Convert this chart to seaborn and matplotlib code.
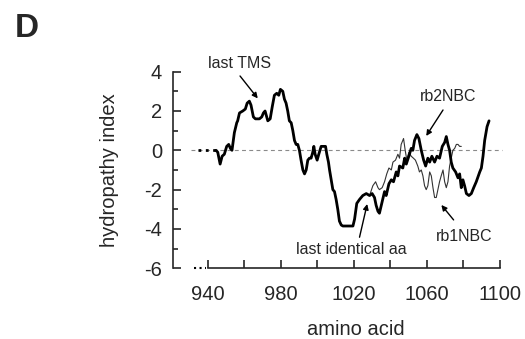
import matplotlib
matplotlib.use("Agg")
import matplotlib.pyplot as plt
from matplotlib.ticker import MultipleLocator
import seaborn as sns

#### DATA

# rb2NBC (thick) hydropathy profile
rb2_x = [944.6, 945.5, 946.8, 947.9, 949.1, 950.4, 951.5, 952.4, 953.3, 954.6,
         955.9, 956.4, 957.4, 959.2, 960.6, 961.6, 962.8, 963.7, 965.0, 966.1,
         967.4, 968.3, 969.6, 970.5, 971.4, 972.9, 974.2, 975.3, 976.5, 977.8,
         978.9, 979.8, 981.1, 982.0, 982.9, 983.8, 984.7, 985.7, 986.6, 987.5,
         988.4, 989.3, 990.2, 991.1, 992.1, 993.0, 993.9, 994.8, 995.7, 996.6,
         997.5, 998.1, 998.8, 999.9, 1000.8, 1002.1, 1003.4, 1004.5, 1005.2, 1006.1,
         1006.7, 1007.6, 1008.5, 1009.4, 1010.3, 1011.2, 1012.1, 1013.1, 1014.0, 1016.0,
         1018.0, 1019.5, 1020.4, 1021.6, 1023.1, 1024.9, 1026.8, 1028.6, 1030.0, 1031.3,
         1032.2, 1033.2, 1034.0, 1035.5, 1036.8, 1037.7, 1039.2, 1040.5, 1041.7, 1043.2,
         1044.1, 1045.0, 1046.8, 1047.8, 1048.7, 1050.1, 1051.4, 1052.3, 1053.2, 1054.5,
         1055.6, 1056.9, 1058.2, 1059.3, 1060.5, 1061.5, 1062.7, 1064.2, 1065.5, 1066.9,
         1068.4, 1069.7, 1070.6, 1071.5, 1072.4, 1073.3, 1074.2, 1075.7, 1077.0, 1077.9,
         1078.8, 1079.7, 1080.6, 1081.6, 1083.0, 1084.3, 1085.6, 1087.0, 1088.9, 1089.8,
         1090.7, 1091.6, 1092.9, 1094.0]
rb2_y = [0.0, -0.1, -0.7, -0.3, -0.2, 0.2, 0.3, 0.1, 0.0, 0.9,
         1.4, 1.5, 1.9, 2.0, 2.1, 2.4, 2.5, 2.3, 1.7, 1.6,
         1.6, 1.6, 1.7, 1.9, 2.0, 1.5, 1.6, 2.2, 2.8, 2.9,
         2.8, 3.1, 3.0, 2.6, 2.4, 2.0, 1.5, 1.4, 1.0, 0.5,
         0.3, 0.3, 0.0, -0.5, -1.0, -1.2, -1.0, -0.5, -0.4, -0.4,
         -0.1, 0.2, -0.2, -0.5, -0.2, 0.2, 0.2, 0.2, -0.2, -0.6,
         -1.0, -1.5, -2.0, -2.1, -2.5, -3.0, -3.6, -3.8, -3.85, -3.85,
         -3.85, -3.85, -3.5, -2.7, -2.5, -2.3, -2.2, -2.3, -2.2, -2.4,
         -2.8, -3.1, -3.2, -2.6, -2.1, -2.3, -1.7, -1.5, -1.6, -1.1,
         -1.3, -0.8, -0.9, -0.4, -0.7, -0.3, 0.1, 0.0, 0.5, 0.8,
         0.6, 0.0, -0.5, -0.8, -0.4, -0.6, -0.3, -0.6, -0.3, -0.4,
         0.2, 0.4, 0.7, 0.3, 0.0, -0.6, -0.9, -1.1, -1.4, -1.2,
         -1.9, -1.5, -1.8, -2.2, -2.3, -2.2, -1.9, -1.6, -1.1, -0.9,
         -0.3, 0.5, 1.2, 1.5]

# rb1NBC (thin) after the last identical residue
rb1_x = [1028.6, 1030.4, 1031.9, 1033.2, 1034.0, 1035.5, 1036.8, 1038.0, 1039.2, 1040.5,
         1041.4, 1042.8, 1044.1, 1045.0, 1045.9, 1047.2, 1048.1, 1049.0, 1050.1, 1051.4,
         1052.6, 1053.7, 1055.0, 1055.9, 1056.9, 1057.8, 1058.7, 1059.6, 1060.5, 1061.5,
         1062.4, 1063.3, 1064.2, 1065.1, 1066.0, 1066.9, 1067.8, 1068.8, 1069.7, 1070.6,
         1071.5, 1072.4, 1073.3, 1074.2, 1075.2, 1076.1, 1077.0, 1077.9, 1078.8]
rb1_y = [-2.3, -1.8, -1.6, -1.9, -2.0, -1.9, -1.6, -1.2, -0.9, -1.0,
         -0.6, -0.5, -0.2, -0.4, 0.3, 0.6, 0.0, -0.5, -0.1, -0.3,
         -0.4, -0.5, -0.8, -1.1, -1.0, -1.3, -1.8, -2.0, -1.8, -1.1,
         -1.3, -1.9, -2.4, -2.4, -2.0, -1.6, -1.3, -1.0, -1.6, -1.9,
         -1.6, -0.8, -0.4, 0.0, 0.1, 0.3, 0.3, 0.2, 0.2]

# dotted lead-in before the plotted stretch
lead_x = [934.5, 944.6]
lead_y = [0.0, 0.0]

x_ticks = [940, 980, 1020, 1060, 1100]

#### PLOT

sns.set_style("ticks")
plt.rcParams['font.family'] = ['Liberation Sans', 'DejaVu Sans']
plt.rcParams['axes.unicode_minus'] = False

fig = plt.figure(figsize=(5.25, 3.39), dpi=100)
ax = fig.add_axes([0.3295, 0.2086, 0.6229, 0.58])

ax.hlines(0, 931, 1101, colors='#8a8a8a', linestyles=(0, (3.5, 3)), linewidth=0.8, clip_on=False)
sns.lineplot(x=lead_x, y=lead_y, ax=ax, color='black', linewidth=2.0, linestyle=':')
sns.lineplot(x=rb1_x, y=rb1_y, ax=ax, color='#333333', linewidth=0.8)
sns.lineplot(x=rb2_x, y=rb2_y, ax=ax, color='black', linewidth=2.0)

# axis break mark under the x axis
ax.plot([932.5, 939], [-6, -6], color='black', linestyle=':', linewidth=1.5, clip_on=False)

ax.set_xlim(921, 1100)
ax.set_ylim(-6, 4)
ax.xaxis.set_minor_locator(MultipleLocator(20))
ax.yaxis.set_major_locator(MultipleLocator(2))
ax.yaxis.set_minor_locator(MultipleLocator(1))
ax.set_xticks(x_ticks)

for s in ['top', 'right']:
    ax.spines[s].set_visible(False)
ax.spines['bottom'].set_bounds(940, 1100)
ax.spines['left'].set_bounds(-6, 4)
for s in ['left', 'bottom']:
    ax.spines[s].set_linewidth(1.2)

ax.tick_params(axis='both', which='both', direction='in', width=1.2, labelsize=14.5)
ax.tick_params(axis='y', which='major', length=5.5, pad=8)
ax.tick_params(axis='y', which='minor', length=3.5)
ax.tick_params(axis='x', which='both', length=5.5, pad=12)

ax.set_xlabel("amino acid", fontsize=14.5)
ax.xaxis.set_label_coords(0.56, -0.265)
ax.set_ylabel("hydropathy index", fontsize=14.5)
ax.yaxis.set_label_coords(-0.165, 0.5)

# annotations
arrow = dict(arrowstyle='-|>', color='black', lw=1.0, mutation_scale=8, shrinkA=0, shrinkB=0)
ax.annotate("", xy=(967.4, 2.64), xytext=(957.7, 3.78), arrowprops=arrow)
ax.text(957.5, 4.42, "last TMS", ha='center', va='center', fontsize=11.5)
ax.annotate("", xy=(1059.6, 0.73), xytext=(1068.8, 2.05), arrowprops=arrow)
ax.text(1071.5, 2.73, "rb2NBC", ha='center', va='center', fontsize=11.5)
ax.annotate("", xy=(1067.9, -2.78), xytext=(1074.6, -3.54), arrowprops=arrow)
ax.text(1080.6, -4.39, "rb1NBC", ha='center', va='center', fontsize=11.5)
ax.annotate("", xy=(1027.3, -2.73), xytext=(1023.1, -4.42), arrowprops=arrow)
ax.text(1018.5, -5.03, "last identical aa", ha='center', va='center', fontsize=11.5)

fig.text(0.028, 0.89, "D", fontsize=24, fontweight='bold')

fig.savefig("out.png", dpi=100)
